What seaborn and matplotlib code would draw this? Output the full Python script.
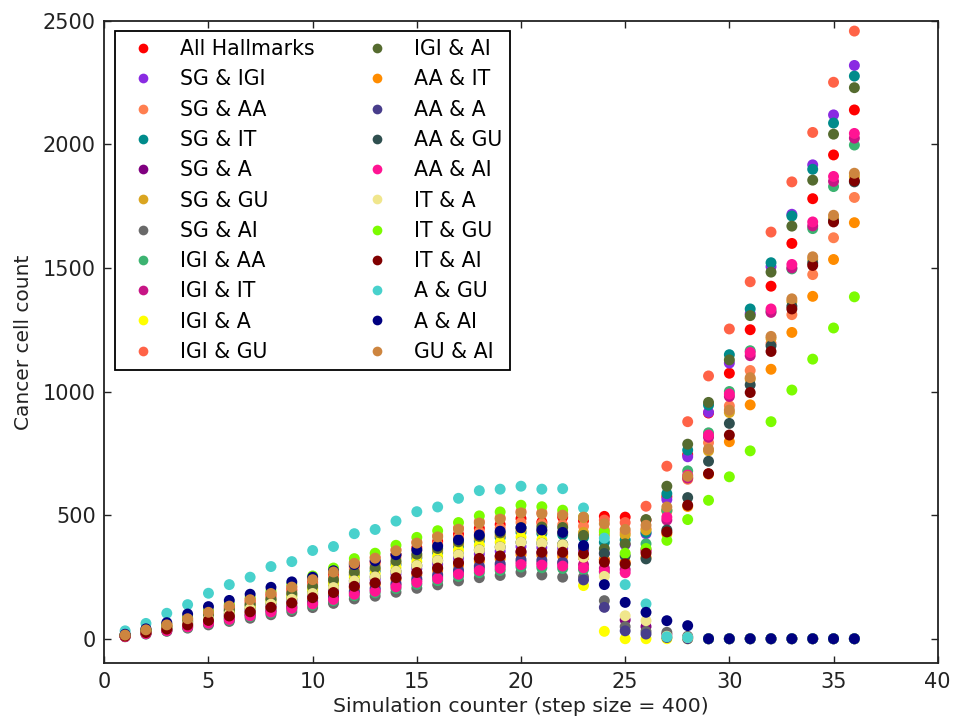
import matplotlib
matplotlib.use("Agg")
import matplotlib.pyplot as plt
import seaborn as sns
import pandas as pd
import numpy as np

steps = list(range(1, 37))

series_names = ["All Hallmarks", "SG & IGI", "SG & AA", "SG & IT", "SG & A", "SG & GU",
                "SG & AI", "IGI & AA", "IGI & IT", "IGI & A", "IGI & GU",
                "IGI & AI", "AA & IT", "AA & A", "AA & GU", "AA & AI", "IT & A",
                "IT & GU", "IT & AI", "A & GU", "A & AI", "GU & AI"]

series_colors = ["red", "blueviolet", "coral", "darkcyan", "purple", "goldenrod",
                 "dimgray", "mediumseagreen", "mediumvioletred", "yellow", "tomato",
                 "darkolivegreen", "darkorange", "darkslateblue", "darkslategray", "deeppink",
                 "khaki", "lawngreen", "maroon", "mediumturquoise", "navy", "peru"]

all_hallmarks = [15,34,53,78,102,126,151,175,199,228,258,292,311,340,369,394,423,447,462,486,472,492,
                 478,495,492,480,575,745,913,1074,1250,1426,1599,1780,1957,2139]
sg_igi = [11,26,41,60,78,97,116,134,153,175,198,224,239,261,283,302,325,343,354,373,369,366,
          360,345,380,425,563,736,916,1115,1315,1505,1717,1917,2119,2319]
sg_aa = [14,33,52,75,99,122,146,169,193,221,249,282,301,329,357,381,409,432,447,470,465,461,
         455,440,430,445,515,645,793,942,1085,1195,1311,1473,1622,1785]
sg_it = [13,30,47,69,90,112,133,155,176,202,228,258,275,301,327,348,374,396,409,430,426,421,
         410,390,400,430,587,763,945,1149,1334,1521,1710,1899,2086,2276]
sg_a = [11,25,39,56,74,91,109,126,144,165,186,210,224,245,266,284,305,322,333,350,347,343,
        330,320,76,49,18,6,0,0,0,0,0,0,0,0]
sg_gu = [13,31,48,70,92,114,136,158,180,207,233,264,282,308,334,356,383,405,418,440,436,431,
         430,420,420,440,520,650,760,915,1050,1215,1365,1535,1700,1870]
sg_ai = [8,19,30,43,56,70,83,97,110,126,143,161,172,188,204,218,234,247,256,269,258,249,
         250,154,49,30,26,10,0,0,0,0,0,0,0,0]
igi_aa = [9,20,32,46,61,75,90,104,119,136,154,174,186,203,220,235,252,267,276,290,287,284,
          280,270,300,384,520,679,833,1000,1165,1325,1496,1659,1829,1997]
igi_it = [9,22,34,50,65,81,96,112,127,146,164,186,198,217,236,251,270,285,295,310,307,304,
          300,285,280,355,480,650,815,980,1145,1320,1500,1670,1850,2025]
igi_a = [12,29,45,66,86,107,127,148,169,193,218,247,263,288,312,333,358,378,390,411,400,380,
         215,30,0,0,0,0,0,0,0,0,0,0,0,0]
igi_gu = [15,36,57,82,108,134,160,185,211,242,273,309,330,361,391,417,448,474,489,515,510,505,
          490,480,470,536,698,878,1063,1253,1444,1645,1848,2048,2251,2458]
igi_ai = [14,32,50,72,95,117,140,162,185,212,239,270,288,315,342,365,392,414,428,450,452,450,
          418,364,384,482,617,787,956,1128,1307,1483,1669,1855,2041,2229]
aa_it = [10,24,37,54,71,88,105,122,139,160,180,204,218,238,258,275,296,313,323,340,337,333,
         330,320,310,330,425,535,666,797,946,1090,1239,1385,1534,1683]
aa_a = [10,22,35,51,67,83,99,115,131,150,170,192,205,224,243,259,278,294,304,320,318,310,
        238,127,32,19,5,0,0,0,0,0,0,0,0,0]
aa_gu = [12,27,43,62,82,101,121,140,160,183,207,234,250,273,296,316,339,359,371,390,386,382,
         370,345,335,323,440,571,718,871,1027,1185,1345,1520,1690,1848]
aa_ai = [9,21,33,48,63,78,93,108,123,141,159,180,192,210,228,243,261,276,285,300,298,294,
         287,273,267,360,492,662,824,990,1158,1334,1514,1686,1870,2044]
it_a = [12,27,43,62,82,101,121,140,160,183,207,234,250,273,296,316,339,359,371,390,386,380,
        330,252,93,73,10,5,0,0,0,0,0,0,0,0]
it_gu = [16,38,59,86,113,140,167,194,221,254,286,324,346,378,410,437,470,497,513,540,534,520,
         492,432,346,365,398,482,560,655,760,878,1006,1131,1257,1383]
it_ai = [11,25,39,56,74,92,109,127,145,166,187,212,226,247,268,286,307,325,335,353,350,350,
         344,310,303,346,432,540,668,824,996,1162,1334,1510,1686,1852]
a_gu = [32,62,103,138,184,219,249,292,312,357,373,425,442,476,514,533,568,599,605,617,605,607,
        529,407,219,141,8,5,0,0,0,0,0,0,0,0]
a_ai = [18,40,65,100,130,155,180,208,230,249,275,300,315,340,360,375,400,420,435,449,440,430,
        377,219,147,107,73,53,0,0,0,0,0,0,0,0]
gu_ai = [15,36,56,81,107,132,158,183,209,239,270,305,326,356,387,412,443,468,484,509,505,500,
         492,465,442,459,533,657,767,925,1056,1223,1375,1545,1713,1883]

series_values = [all_hallmarks, sg_igi, sg_aa, sg_it, sg_a, sg_gu, sg_ai, igi_aa, igi_it,
                 igi_a, igi_gu, igi_ai, aa_it, aa_a, aa_gu, aa_ai, it_a, it_gu, it_ai,
                 a_gu, a_ai, gu_ai]

rows = []
for name, vals in zip(series_names, series_values):
    for s, v in zip(steps, vals):
        rows.append({"step": s, "count": v, "series": name})
df = pd.DataFrame(rows)
palette = dict(zip(series_names, series_colors))

plt.rcParams.update({
    "font.family": ["DejaVu Sans"],
    "xtick.direction": "in",
    "ytick.direction": "in",
    "xtick.top": True,
    "ytick.right": True,
    "xtick.major.size": 5,
    "ytick.major.size": 5,
    "xtick.major.width": 1.0,
    "ytick.major.width": 1.0,
    "axes.linewidth": 1.3,
    "axes.edgecolor": "#222222",
})

fig = plt.figure(figsize=(9.55, 7.21), dpi=100)
ax = fig.add_axes([0.1092, 0.0798, 0.8727, 0.8915])

sns.scatterplot(data=df, x="step", y="count", hue="series", hue_order=series_names,
                palette=palette, s=62, linewidth=0, edgecolor="none", alpha=1.0,
                ax=ax, legend=True)

ax.set_xlim(0, 40)
ax.set_ylim(-100, 2500)
ax.set_xticks([0, 5, 10, 15, 20, 25, 30, 35, 40])
ax.set_yticks([0, 500, 1000, 1500, 2000, 2500])
ax.tick_params(labelsize=15, colors="#222222", pad=6)
ax.set_xlabel("Simulation counter (step size = 400)", fontsize=14.7, color="#222222", labelpad=4)
ax.set_ylabel("Cancer cell count", fontsize=14.5, color="#222222", labelpad=7)

handles, labels = ax.get_legend_handles_labels()
for h in handles:
    h.set_markersize(7)
    h.set_markeredgewidth(0)
leg = ax.legend(handles, labels, ncol=2, loc="upper left", fontsize=14.8,
                frameon=True, fancybox=False, edgecolor="black", framealpha=1,
                borderpad=0.4, borderaxespad=0.5, handlelength=2.0, handletextpad=0.8,
                columnspacing=2.0, labelspacing=0.5)
leg.get_frame().set_linewidth(1.3)

fig.savefig("out.png", dpi=100, facecolor="white")
